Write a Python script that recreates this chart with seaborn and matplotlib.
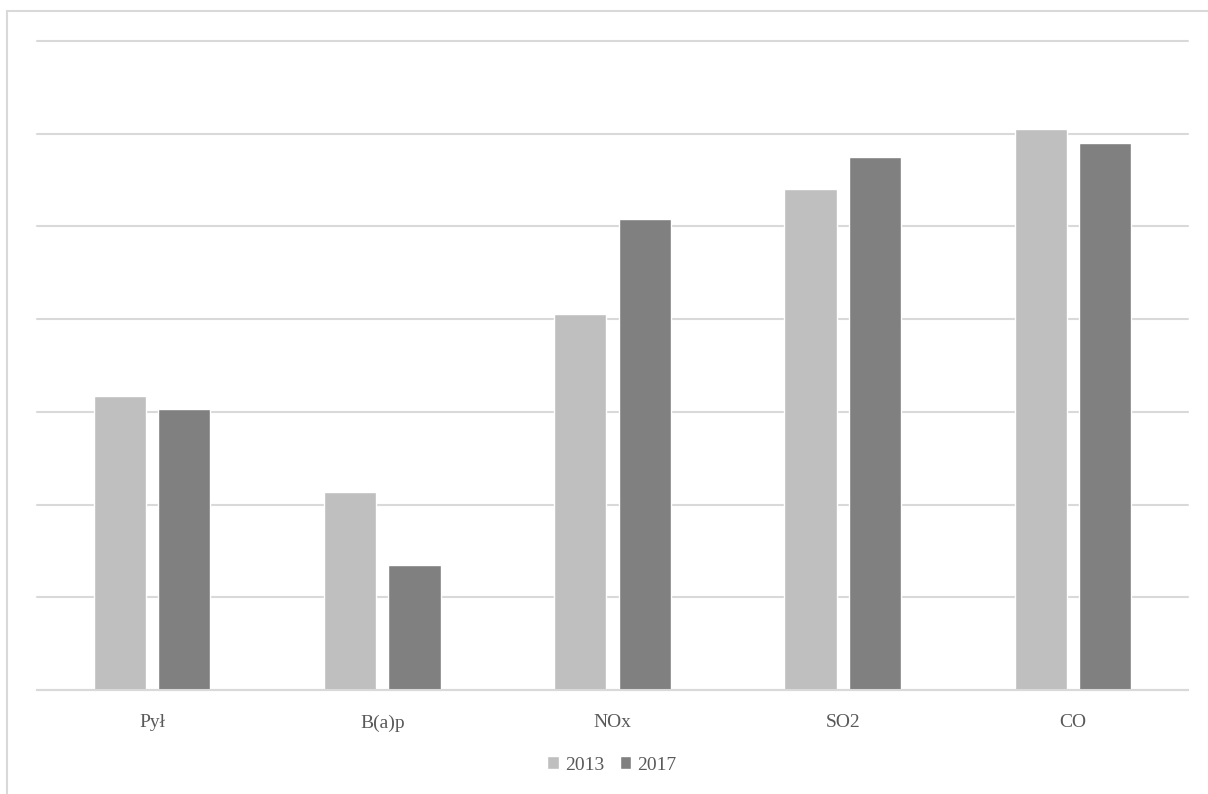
import pandas as pd
import matplotlib.pyplot as plt
import seaborn as sns
from matplotlib.patches import Rectangle, Patch

# data (no y-axis labels in original, grid units)
categories = ["Pył", "B(a)p", "NOx", "SO2", "CO"]
vals_2013 = [3.17, 2.14, 4.06, 5.40, 6.05]
vals_2017 = [3.03, 1.35, 5.08, 5.75, 5.90]
years = ["2013", "2017"]

df = pd.DataFrame({
    "kat": categories * 2,
    "rok": [years[0]] * 5 + [years[1]] * 5,
    "val": vals_2013 + vals_2017,
})

sns.set_style("white")
plt.rcParams['font.family'] = ['Liberation Serif', 'DejaVu Serif']

fig = plt.figure(figsize=(12.08, 7.94), dpi=100)
ax = fig.add_axes([37/1208, 1 - 690/794, (1188-37)/1208, (690-41)/794])

sns.barplot(data=df, x="kat", y="val", hue="rok", ax=ax,
            palette=["#BFBFBF", "#808080"], width=0.56, gap=0.19,
            saturation=1, legend=False)

ax.set_ylim(0, 7)
ax.set_xlim(-0.5, 4.5)
ax.set_yticks(range(0, 8))
ax.yaxis.grid(True, color="#D9D9D9", linewidth=1.5)
for gl in ax.get_ygridlines():
    gl.set_clip_on(False)
ax.set_axisbelow(True)
ax.tick_params(axis="y", left=False, labelleft=False)
ax.tick_params(axis="x", bottom=False, labelsize=14, labelcolor="#595959", pad=14)
ax.set_xlabel("")
ax.set_ylabel("")
for s in ["left", "right", "top"]:
    ax.spines[s].set_visible(False)
ax.spines["bottom"].set_color("#D9D9D9")
ax.spines["bottom"].set_linewidth(1.5)

# legend
handles = [Patch(facecolor="#BFBFBF"), Patch(facecolor="#808080")]
fig.legend(handles, years, loc="center", bbox_to_anchor=(612/1208, 1 - 765/794),
           ncol=2, frameon=False, fontsize=14, handlelength=0.6, handleheight=0.6,
           handletextpad=0.3, columnspacing=0.8, labelcolor="#595959")

# chart area border (partially cropped in original)
fig.patches.append(Rectangle((7/1208, -0.1), 1.2, 1 - 11/794 + 0.1,
                             transform=fig.transFigure, fill=False,
                             edgecolor="#D9D9D9", linewidth=1.5))

fig.savefig("out.png", dpi=100)
